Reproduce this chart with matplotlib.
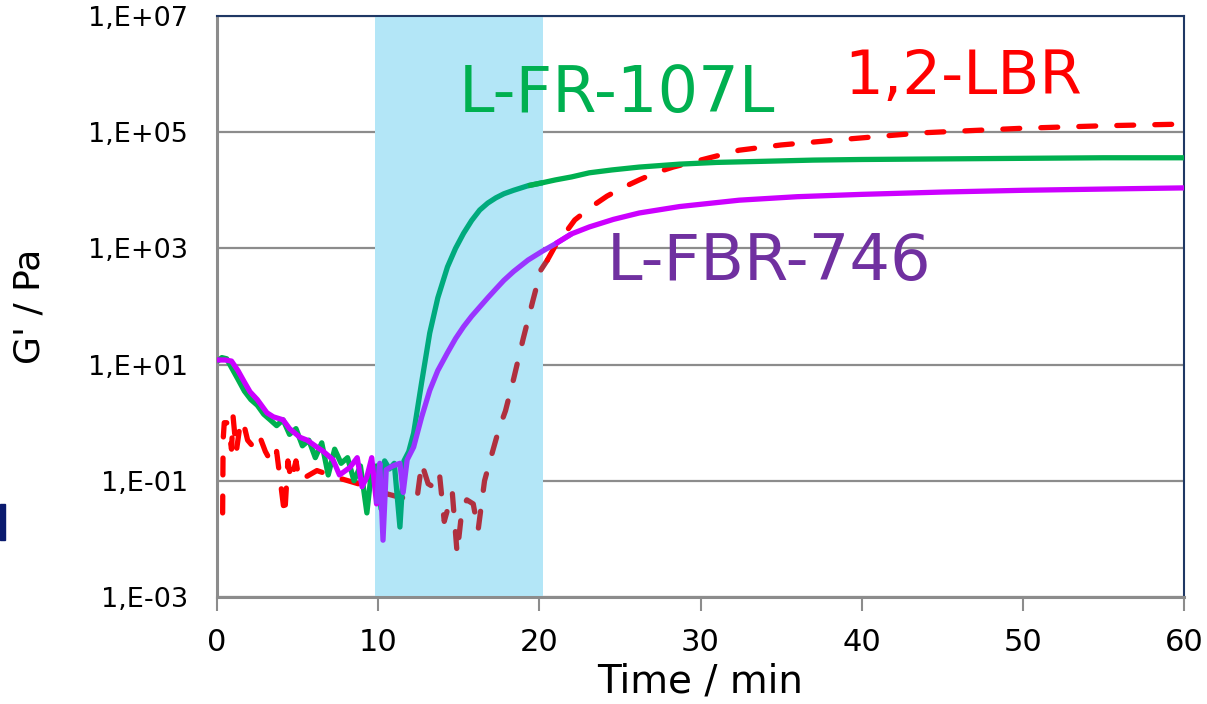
import numpy as np
import matplotlib
matplotlib.use('Agg')
from matplotlib import pyplot as plt
from matplotlib.patches import Rectangle

plt.rcParams['font.family'] = ['DejaVu Sans']

# ---- data, G' in Pa ----
t_fr107 = [0, 0.3, 0.6, 0.9, 1.3, 1.7, 2.1, 2.5, 2.9, 3.3, 3.7, 4.1, 4.5, 4.9,
           5.3, 5.7, 6.1, 6.5, 6.9, 7.3, 7.7, 8.1, 8.5, 8.9, 9.3, 9.6, 9.9,
           10.2, 10.4, 10.7, 11.0, 11.35, 11.6, 11.9, 12.2, 12.7, 13.2, 13.7,
           14.3, 14.8, 15.3, 15.8, 16.3, 16.8, 17.3, 17.8, 18.4, 19.3, 20.2,
           21, 22, 23.1, 24.5, 26.2, 28.7, 31, 34, 37, 40, 45, 50, 55, 60]
g_fr107 = [11.2, 13.2, 12.6, 8.9, 5.6, 3.5, 2.5, 2.0, 1.4, 1.12, 0.89, 1.12,
           0.63, 0.79, 0.40, 0.50, 0.25, 0.45, 0.126, 0.35, 0.20, 0.25, 0.10,
           0.18, 0.028, 0.16, 0.18, 0.032, 0.22, 0.16, 0.20, 0.016, 0.22, 0.32,
           0.66, 5.0, 35, 141, 480, 1000, 1820, 3020, 4570, 6030, 7410, 8710,
           10000, 12000, 13500, 15100, 17000, 20000, 22400, 25100, 28200,
           30200, 31600, 33100, 33900, 34700, 35500, 36300, 36300]

t_fbr746 = [0, 0.5, 0.9, 1.3, 1.7, 2.05, 2.5, 3.1, 3.5, 4.1, 4.5, 5.15, 5.6,
            6.2, 6.6, 7.2, 7.6, 8.25, 8.7, 9.0, 9.3, 9.6, 9.9, 10.1, 10.3,
            10.5, 10.9, 11.35, 11.55, 11.8, 12.2, 12.7, 13.2, 13.7, 14.3, 14.8,
            15.3, 15.8, 16.3, 16.8, 17.3, 17.8, 18.4, 19.3, 20.2, 21, 22, 23.1,
            24.6, 26.2, 28.7, 32.4, 36, 40, 45, 50, 55, 60]
g_fbr746 = [12.0, 12.0, 11.5, 7.9, 5.0, 3.4, 2.5, 1.48, 1.26, 1.12, 0.79, 0.56,
            0.50, 0.38, 0.32, 0.23, 0.126, 0.17, 0.25, 0.079, 0.117, 0.25, 0.04,
            0.20, 0.0095, 0.155, 0.18, 0.20, 0.063, 0.23, 0.38, 1.26, 3.6, 7.9,
            16, 28, 45, 68, 98, 141, 200, 282, 400, 630, 900, 1200, 1780, 2340,
            3160, 4070, 5250, 6760, 7760, 8510, 9330, 10000, 10500, 11000]

t_lbr = [0.35, 0.38, 0.45, 0.6, 0.8, 0.9, 1.0, 1.2, 1.4, 1.6, 1.9, 2.2, 2.6,
         3.0, 3.4, 3.7, 4.2, 4.4, 4.6, 4.9, 5.1, 6.2, 7.4, 8.7, 9.7, 10.5,
         11.35, 12.4, 12.7, 13.1, 13.4, 13.8, 14.1, 14.6, 14.9, 15.2, 15.5,
         15.9, 16.2, 16.6, 17.1, 17.5, 17.9, 18.4, 19.0, 19.6, 20.1, 20.5, 21.1,
         21.7, 22.2, 23.3, 24.2, 25.2, 26.2, 27.2, 28.3, 30, 32.4, 35, 38.6,
         43.8, 50, 55, 60]
g_lbr = [0.028, 0.5, 1.0, 1.0, 0.56, 0.35, 1.26, 0.32, 0.8, 1.1, 0.5, 0.40,
         0.63, 0.32, 0.20, 0.32, 0.025, 0.22, 0.10, 0.22, 0.10, 0.15, 0.115,
         0.09, 0.075, 0.06, 0.052, 0.047, 0.20, 0.089, 0.079, 0.135, 0.02,
         0.063, 0.0056, 0.032, 0.047, 0.04, 0.014, 0.1, 0.32, 0.79, 1.6, 5.6,
         28, 126, 427, 630, 1260, 2000, 3090, 5370, 7940, 11200, 15100, 20000,
         25100, 33100, 49000, 60300, 74100, 97700, 117000, 129000, 138000]

band = (9.8, 20.25)
yticks = [1e-3, 1e-1, 1e1, 1e3, 1e5, 1e7]
ytick_labels = ['1,E-03', '1,E-01', '1,E+01', '1,E+03', '1,E+05', '1,E+07']
xticks = [0, 10, 20, 30, 40, 50, 60]


def segments(t, g, cuts):
    # split a series at the given times, repeating the boundary point
    t = np.asarray(t)
    g = np.asarray(g)
    edges = [-np.inf] + list(cuts) + [np.inf]
    out = []
    for a, b in zip(edges[:-1], edges[1:]):
        idx = np.where((t >= a) & (t <= b))[0]
        if len(idx) == 0:
            continue
        lo = max(idx[0] - 1, 0) if a != -np.inf else idx[0]
        out.append((t[lo:idx[-1] + 1], g[lo:idx[-1] + 1]))
    return out


fig = plt.figure(figsize=(12.07, 7.04), dpi=100)
ax = fig.add_axes([217 / 1207, 107 / 704, 967 / 1207, 581 / 704])

ax.axvspan(band[0], band[1], color='#b3e6f7', lw=0, zorder=1)

green = ['#00b050', '#00aa7d', '#00b050']
for (tt, gg), c in zip(segments(t_fr107, g_fr107, [10.2, 20.2]), green):
    ax.plot(tt, gg, color=c, lw=3.8, solid_capstyle='butt',
            solid_joinstyle='round', zorder=3)

purple = ['#cc00ff', '#9a35ff', '#cc00ff']
for (tt, gg), c in zip(segments(t_fbr746, g_fbr746, [10.1, 22.0]), purple):
    ax.plot(tt, gg, color=c, lw=3.8, solid_capstyle='butt',
            solid_joinstyle='round', zorder=4)

red = ['#ff0000', '#b0303f', '#ff0000']
for (tt, gg), c in zip(segments(t_lbr, g_lbr, [11.0, 21.0]), red):
    ax.plot(tt, gg, color=c, lw=3.8, ls=(0, (3.2, 4.0)),
            dash_capstyle='round', zorder=2)

ax.set_yscale('log')
ax.set_xlim(0, 60)
ax.set_ylim(1e-3, 1e7)
ax.set_yticks(yticks)
ax.set_yticklabels(ytick_labels)
ax.minorticks_off()
ax.set_xticks(xticks)
ax.grid(axis='y', color='#8c8c8c', lw=1.6, zorder=0)
ax.set_axisbelow(True)

ax.tick_params(axis='y', length=0, pad=21, labelsize=19.5)
ax.tick_params(axis='x', length=10, width=1.5, color='#8c8c8c', pad=12,
               labelsize=22)
for s in ['left', 'bottom']:
    ax.spines[s].set_color('#8c8c8c')
    ax.spines[s].set_linewidth(2.2)
for s in ['top', 'right']:
    ax.spines[s].set_color('#1f3864')
    ax.spines[s].set_linewidth(1.5)

ax.set_xlabel('Time / min', fontsize=28, labelpad=4)
ax.set_ylabel("G' / Pa", fontsize=26, labelpad=30)

ax.text(15.0, 2.2e5, 'L-FR-107L', color='#00b050', fontsize=46, zorder=5)
ax.text(38.9, 4.5e5, '1,2-LBR', color='#ff0000', fontsize=44, zorder=5)
ax.text(24.2, 2.9e2, 'L-FBR-746', color='#7030a0', fontsize=46, zorder=5)

# small dark mark at the left edge
fig.patches.append(Rectangle((0, 164 / 704), 5 / 1207, 36 / 704,
                             transform=fig.transFigure, color='#0a1a6e'))

plt.savefig('out.png', dpi=100)
